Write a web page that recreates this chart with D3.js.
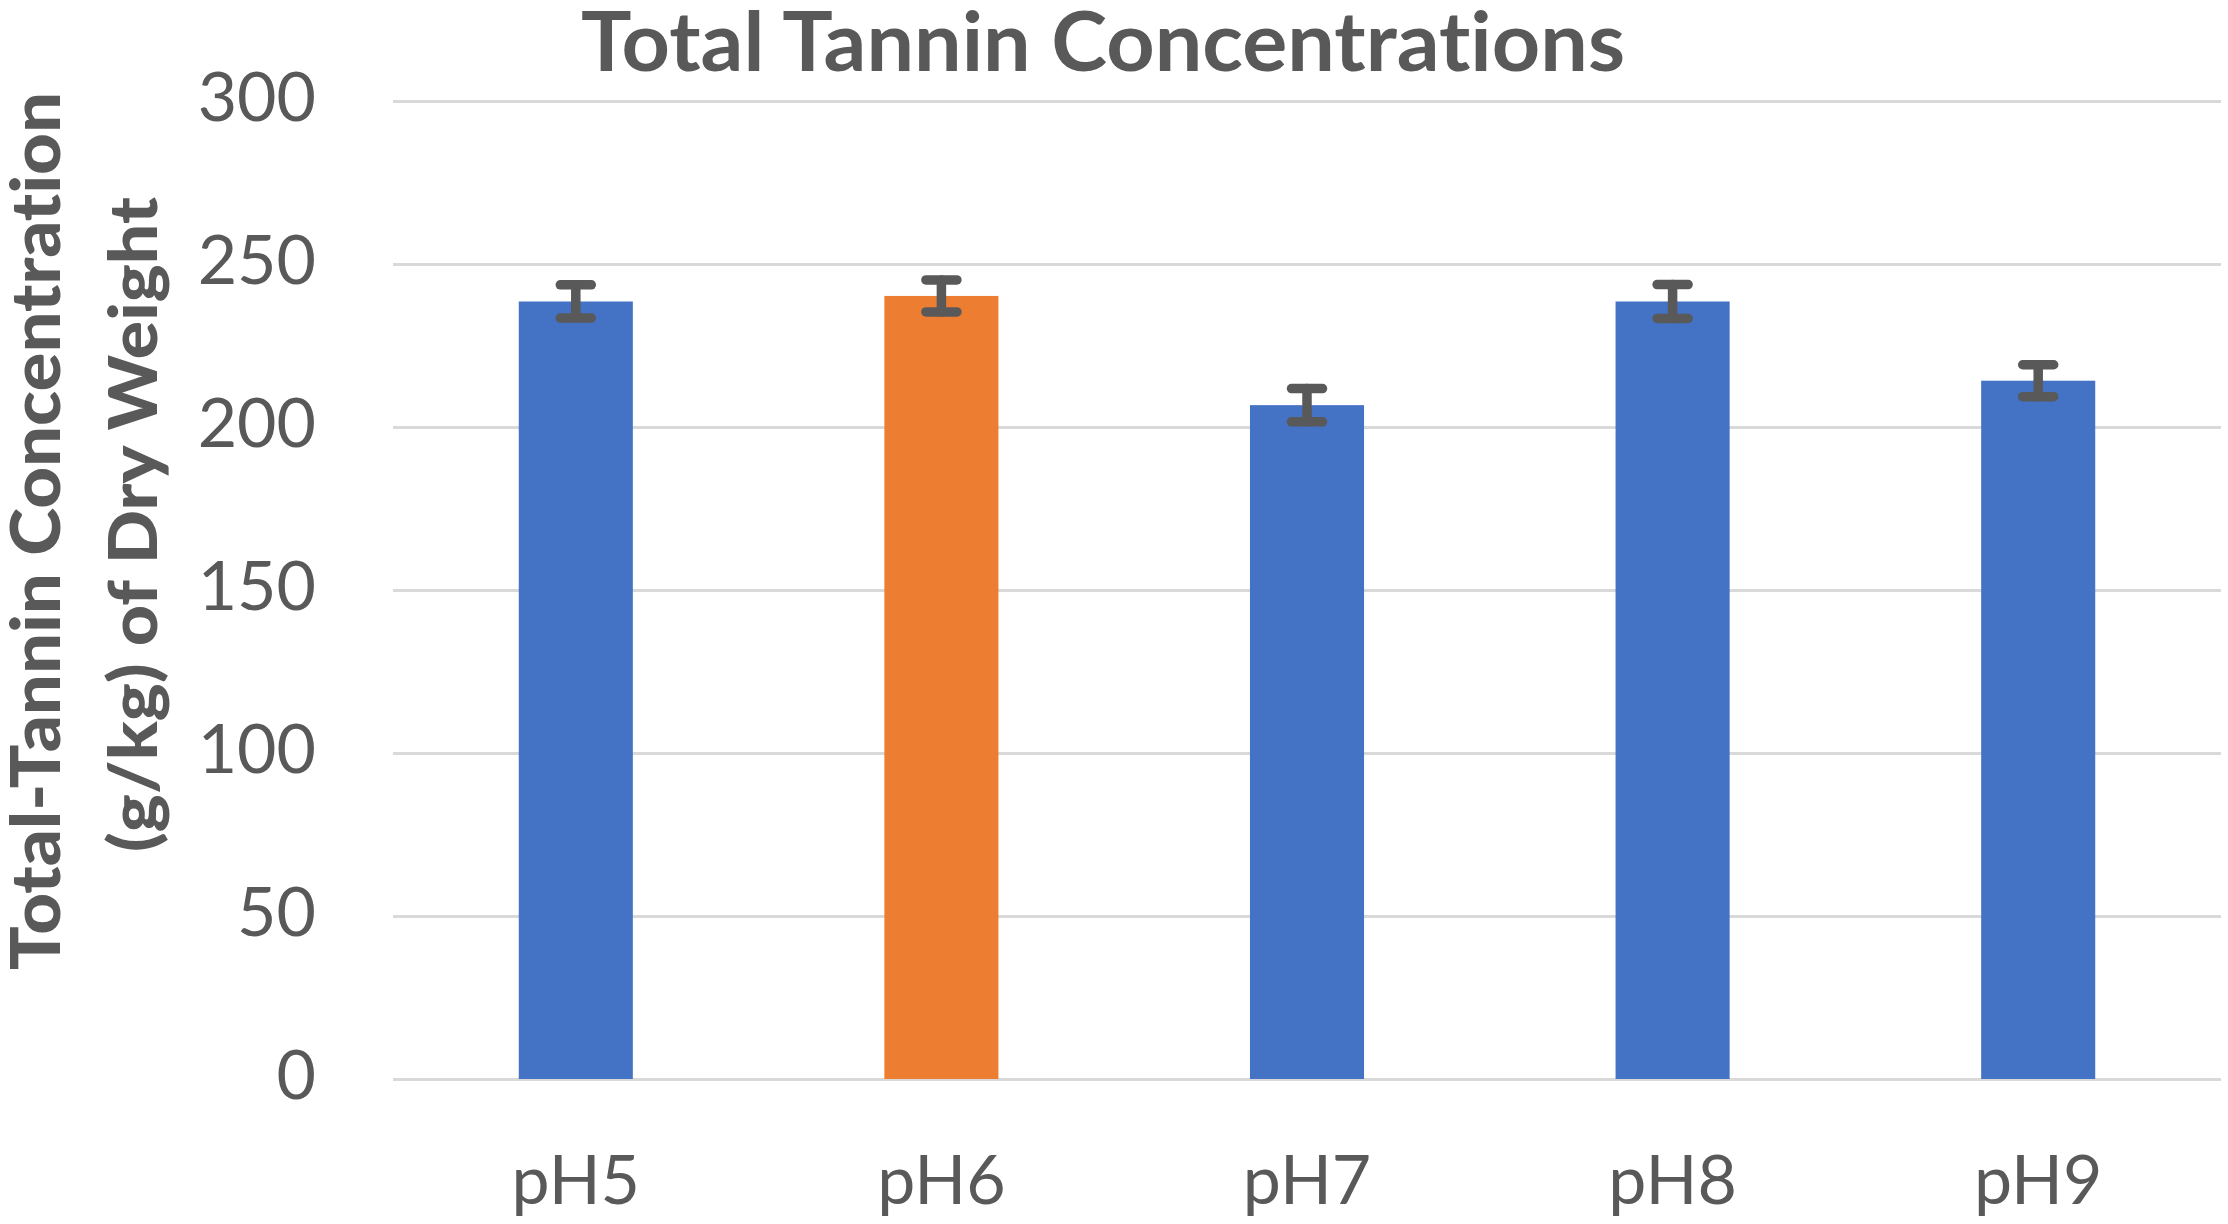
<!DOCTYPE html>
<html>
<head>
<meta charset="utf-8">
<script src="https://cdn.jsdelivr.net/npm/d3@7"></script>
<style>
  body { margin: 0; background: #fff; }
  svg { display: block; }
  text { font-variant-ligatures: none; }
</style>
</head>
<body>
<div id="chart"></div>
<script>
// data
var categories = ["pH5", "pH6", "pH7", "pH8", "pH9"];
var tannin = [238.5, 240.2, 206.7, 238.5, 214.2];
var errors = [5.1, 4.9, 5.1, 5.2, 4.9];
var barColors = ["#4472C4", "#ED7D31", "#4472C4", "#4472C4", "#4472C4"];
var yTicks = [0, 50, 100, 150, 200, 250, 300];

var W = 2228, H = 1224;
var plotLeft = 393, plotRight = 2221, plotTop = 101, plotBottom = 1079;

var svg = d3.select("#chart").append("svg").attr("width", W).attr("height", H);
svg.append("rect").attr("width", W).attr("height", H).attr("fill", "#fff");

var x = d3.scaleBand().domain(categories).range([plotLeft, plotRight]).paddingInner(0.688).paddingOuter(0.344);
var y = d3.scaleLinear().domain([0, 300]).range([plotBottom, plotTop]);

// y axis with gridlines
var yAxis = svg.append("g").attr("transform", "translate(" + plotLeft + ",0)")
    .call(d3.axisLeft(y).tickValues(yTicks).tickSize(-(plotRight - plotLeft)).tickPadding(77));
yAxis.select(".domain").remove();
yAxis.selectAll(".tick line").attr("stroke", "#d9d9d9").attr("stroke-width", 3);
yAxis.selectAll(".tick text").attr("dy", "0.28em")
    .style("font-family", "Lato, 'Open Sans', sans-serif").style("font-size", "68px").attr("fill", "#595959");

// x axis labels
var xAxis = svg.append("g").attr("transform", "translate(0," + plotBottom + ")")
    .call(d3.axisBottom(x).tickSize(0).tickPadding(77));
xAxis.select(".domain").remove();
xAxis.selectAll(".tick text")
    .style("font-family", "Lato, 'Open Sans', sans-serif").style("font-size", "68px").attr("fill", "#595959");

// bars
svg.selectAll(".bar").data(categories).enter().append("rect")
    .attr("class", "bar")
    .attr("x", d => x(d))
    .attr("width", x.bandwidth())
    .attr("y", (d, i) => y(tannin[i]))
    .attr("height", (d, i) => y(0) - y(tannin[i]))
    .attr("fill", (d, i) => barColors[i]);

// error bars
var capHalf = 15.5;
var eb = svg.selectAll(".err").data(categories).enter().append("g").attr("class", "err")
    .attr("stroke", "#595959").attr("stroke-width", 9.5).attr("stroke-linecap", "round");
eb.append("line")
    .attr("x1", d => x(d) + x.bandwidth() / 2).attr("x2", d => x(d) + x.bandwidth() / 2)
    .attr("y1", (d, i) => y(tannin[i] + errors[i])).attr("y2", (d, i) => y(tannin[i] - errors[i]));
eb.append("line")
    .attr("x1", d => x(d) + x.bandwidth() / 2 - capHalf).attr("x2", d => x(d) + x.bandwidth() / 2 + capHalf)
    .attr("y1", (d, i) => y(tannin[i] + errors[i])).attr("y2", (d, i) => y(tannin[i] + errors[i]));
eb.append("line")
    .attr("x1", d => x(d) + x.bandwidth() / 2 - capHalf).attr("x2", d => x(d) + x.bandwidth() / 2 + capHalf)
    .attr("y1", (d, i) => y(tannin[i] - errors[i])).attr("y2", (d, i) => y(tannin[i] - errors[i]));

// title
svg.append("text").attr("x", 1103).attr("y", 71).attr("text-anchor", "middle")
    .attr("textLength", 1044).attr("lengthAdjust", "spacingAndGlyphs")
    .style("font-family", "Lato, 'Open Sans', sans-serif").style("font-weight", "bold").style("font-size", "83px")
    .attr("fill", "#595959").text("Total Tannin Concentrations");

// y axis title, two lines
svg.append("text").attr("transform", "translate(60,531) rotate(-90)").attr("text-anchor", "middle")
    .attr("textLength", 878).attr("lengthAdjust", "spacingAndGlyphs")
    .style("font-family", "Lato, 'Open Sans', sans-serif").style("font-weight", "900").style("font-size", "69px")
    .attr("fill", "#595959").text("Total-Tannin Concentration");
svg.append("text").attr("transform", "translate(157,524.5) rotate(-90)").attr("text-anchor", "middle")
    .attr("textLength", 655).attr("lengthAdjust", "spacingAndGlyphs")
    .style("font-family", "Lato, 'Open Sans', sans-serif").style("font-weight", "900").style("font-size", "67px")
    .attr("fill", "#595959").text("(g/kg) of Dry Weight");
</script>
</body>
</html>
